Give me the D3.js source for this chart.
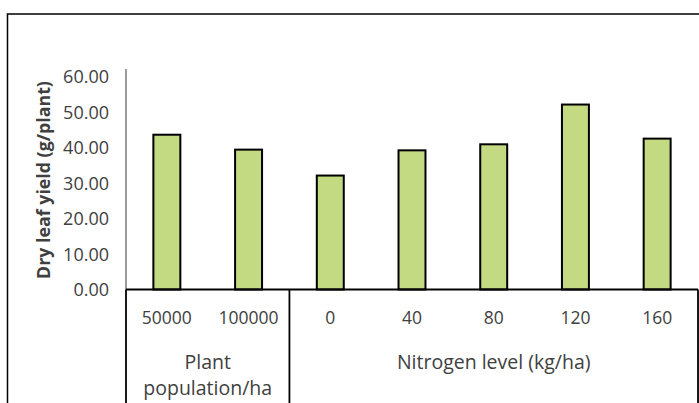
<!DOCTYPE html>
<html>
<head>
<meta charset="utf-8">
<script src="https://cdn.jsdelivr.net/npm/d3@7"></script>
<style>
  html, body { margin: 0; padding: 0; background: #fff; }
  svg { display: block; }
  text { font-family: "Open Sans", Lato, sans-serif; fill: #404040; }
</style>
</head>
<body>
<svg id="chart" width="699" height="403"></svg>
<script>
// Dry leaf yield by plant population and nitrogen level
const categories = ["50000", "100000", "0", "40", "80", "120", "160"];
const groups = ["Plant population/ha", "Plant population/ha", "Nitrogen level (kg/ha)",
                "Nitrogen level (kg/ha)", "Nitrogen level (kg/ha)", "Nitrogen level (kg/ha)",
                "Nitrogen level (kg/ha)"];
const yieldValues = [43.6, 39.4, 32.1, 39.2, 40.9, 52.1, 42.5];
const yTicks = [0, 10, 20, 30, 40, 50, 60];

const svg = d3.select("#chart");
const W = 699, H = 403;

const plot = { left: 126, right: 698, top: 76.5, bottom: 289.5 };

const x = d3.scaleBand()
  .domain(categories)
  .range([plot.left, plot.right])
  .paddingInner(0.67)
  .paddingOuter(0.335);

const y = d3.scaleLinear()
  .domain([0, 60])
  .range([plot.bottom, plot.top]);

// outer chart frame
svg.append("rect")
  .attr("x", 7.5).attr("y", 14)
  .attr("width", W + 10).attr("height", H)
  .attr("fill", "#fff")
  .attr("stroke", "#000")
  .attr("stroke-width", 1.5);

// y axis
const yAxis = d3.axisLeft(y)
  .tickValues(yTicks)
  .tickSize(0)
  .tickPadding(8)
  .tickFormat(d3.format(".2f"));

const gy = svg.append("g")
  .attr("transform", `translate(${plot.left},0)`)
  .call(yAxis);
gy.select(".domain").remove();
gy.selectAll("text")
  .attr("font-size", 18)
  .attr("dy", "0.35em")
  .attr("x", -17);

svg.append("line")
  .attr("x1", plot.left).attr("x2", plot.left)
  .attr("y1", 69).attr("y2", plot.bottom)
  .attr("stroke", "#595959").attr("stroke-width", 1.2);

// bars
svg.append("g").selectAll("rect")
  .data(yieldValues)
  .join("rect")
  .attr("x", (d, i) => x(categories[i]))
  .attr("y", d => y(d))
  .attr("width", x.bandwidth())
  .attr("height", d => y(0) - y(d))
  .attr("fill", "#c3d982")
  .attr("stroke", "#000")
  .attr("stroke-width", 2);

// category axis (two levels)
const xAxis = d3.axisBottom(x).tickSize(0).tickPadding(0);
const gx = svg.append("g")
  .attr("transform", `translate(0,${plot.bottom})`)
  .call(xAxis);
gx.select(".domain").remove();
gx.selectAll("text")
  .attr("font-size", 17.5)
  .attr("y", 28)
  .attr("dy", "0.35em")
  .attr("fill", "#404040");

svg.append("line")
  .attr("x1", plot.left).attr("x2", plot.right)
  .attr("y1", plot.bottom).attr("y2", plot.bottom)
  .attr("stroke", "#000").attr("stroke-width", 1.8);

// group spans along the category axis
const groupNames = Array.from(new Set(groups));
const groupBounds = groupNames.map(g => {
  const idx = groups.map((v, i) => v === g ? i : -1).filter(i => i >= 0);
  const step = x.step();
  return {
    name: g,
    x0: plot.left + idx[0] * step,
    x1: plot.left + (idx[idx.length - 1] + 1) * step
  };
});
const sepX = Array.from(new Set(groupBounds.flatMap(b => [b.x0, b.x1])));
svg.append("g").selectAll("line")
  .data(sepX)
  .join("line")
  .attr("x1", d => d).attr("x2", d => d)
  .attr("y1", plot.bottom).attr("y2", H)
  .attr("stroke", "#000").attr("stroke-width", 1.8);

// group labels
const groupLabels = svg.append("g");
groupBounds.forEach(b => {
  const cx = (b.x0 + b.x1) / 2;
  const words = b.name === "Plant population/ha" ? ["Plant", "population/ha"] : [b.name];
  const t = groupLabels.append("text")
    .attr("text-anchor", "middle")
    .attr("font-size", 19.5);
  words.forEach((w, i) => {
    t.append("tspan")
      .attr("x", cx)
      .attr("y", 362 + i * 26)
      .attr("dy", "0.35em")
      .text(w);
  });
});

// y axis title
svg.append("text")
  .attr("transform", "translate(44,180) rotate(-90)")
  .attr("text-anchor", "middle")
  .attr("dy", "0.35em")
  .attr("font-size", 17.8)
  .attr("font-weight", "bold")
  .attr("fill", "#000")
  .text("Dry leaf yield (g/plant)");
</script>
</body>
</html>
